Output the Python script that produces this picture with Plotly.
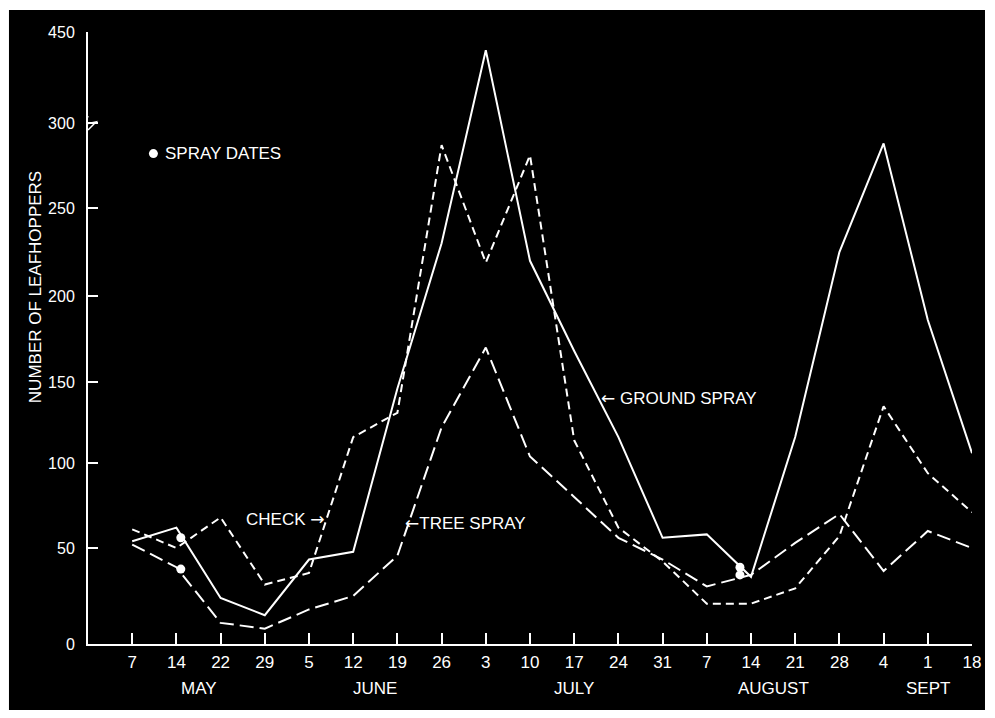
import numpy as np
import plotly.graph_objects as go

# ---------------- data ----------------
dates = ["7", "14", "22", "29", "5", "12", "19", "26", "3", "10", "17", "24", "31",
         "7", "14", "21", "28", "4", "1", "18"]
month_names = ["MAY", "JUNE", "JULY", "AUGUST", "SEPT"]
month_of_date = [0, 0, 0, 0, 1, 1, 1, 1, 2, 2, 2, 2, 2, 3, 3, 3, 3, 4, 4, 4]

ground_spray = [54, 62, 24, 15, 44, 48, 146, 230, 420, 220, 168, 116, 56, 58, 35, 116, 225, 288, 186, 106]
check        = [61, 50, 68, 31, 37, 116, 131, 287, 219, 281, 114, 62, 43, 21, 21, 29, 57, 135, 94, 71]
tree_spray   = [52, 40, 11, 8, 18, 25, 46, 122, 170, 104, 80, 56, 44, 30, 36, 53, 70, 38, 60, 50]

# spray dates (position on the date index) and counts at those dates
spray_date_idx = [1.1, 13.75]
spray_ground = [56, 40]
spray_tree = [39, 36]

y_tick_values = [0, 50, 100, 150, 200, 250, 300, 450]

# ---------------- broken / hand-drawn y scale ----------------
Y_SCALE = [0, 96, 181, 262, 348, 436, 521, 612]


def ty(v):
    return np.interp(np.asarray(v, dtype=float), y_tick_values, Y_SCALE)


FONT = "Liberation Sans, Arial, sans-serif"
WHITE = "#ffffff"
RARR = "<span style='font-family:DejaVu Sans'>→</span>"
LARR = "<span style='font-family:DejaVu Sans'>←</span>"

x_idx = list(range(len(dates)))

fig = go.Figure()

fig.add_trace(go.Scatter(x=x_idx, y=ty(check), mode="lines", name="CHECK",
                         line=dict(color=WHITE, width=2, dash="8px,5px"), cliponaxis=False))
fig.add_trace(go.Scatter(x=x_idx, y=ty(tree_spray), mode="lines", name="TREE SPRAY",
                         line=dict(color=WHITE, width=2, dash="14px,6px"), cliponaxis=False))
fig.add_trace(go.Scatter(x=x_idx, y=ty(ground_spray), mode="lines", name="GROUND SPRAY",
                         line=dict(color=WHITE, width=2), cliponaxis=False))

# spray date markers
fig.add_trace(go.Scatter(x=spray_date_idx + spray_date_idx, y=ty(spray_ground + spray_tree),
                         mode="markers", marker=dict(color=WHITE, size=9), cliponaxis=False))
# legend dot for "SPRAY DATES"
fig.add_trace(go.Scatter(x=[0.48], y=ty([282]), mode="markers",
                         marker=dict(color=WHITE, size=9), cliponaxis=False))

annotations = [
    dict(x=0.7, y=float(ty(282)), text="SPRAY DATES"),
    dict(x=2.53, y=float(ty(67)), text="CHECK " + RARR),
    dict(x=6.12, y=float(ty(65)), text=LARR + "TREE SPRAY"),
    dict(x=10.57, y=float(ty(140)), text=LARR + " GROUND SPRAY"),
]
for a in annotations:
    a.update(xref="x", yref="y", showarrow=False, xanchor="left", yanchor="middle",
             font=dict(family=FONT, size=17, color=WHITE))

# month labels centred under their dates
for m, name in enumerate(month_names):
    idx = [i for i, mm in enumerate(month_of_date) if mm == m]
    annotations.append(dict(x=float(np.mean(idx)), y=-0.0735, xref="x", yref="paper",
                            text=name, showarrow=False, xanchor="center", yanchor="middle",
                            font=dict(family=FONT, size=17, color=WHITE)))

# y-axis title
annotations.append(dict(x=-0.06, y=0.583, xref="paper", yref="paper", text="NUMBER OF LEAFHOPPERS",
                        textangle=-90, showarrow=False, xanchor="center", yanchor="middle",
                        font=dict(family=FONT, size=17, color=WHITE)))

# black photographic background
shapes = [dict(type="rect", xref="paper", yref="paper", x0=-0.0894, x1=1.0147, y0=-0.1078, y1=1.036,
               fillcolor="#000000", line=dict(width=0), layer="below")]

# axis break symbol at 300
yb = float(ty(300))
px = 1 / 44.2
brk = [(-1, yb - 7), (-1 + 8 * px, yb + 1), (-1 - 3 * px, yb - 1), (-1, yb + 7)]
path = "M " + " L ".join(f"{x:.4f},{y:.2f}" for x, y in brk)
shapes.append(dict(type="path", xref="x", yref="y", path=path, line=dict(color=WHITE, width=1.5)))

# page body has an 8px margin: shrink the figure so the plot lands where the reference has it
fig.update_layout(
    width=987, height=710,
    margin=dict(l=80, r=23, t=24, b=74),
    paper_bgcolor="#ffffff", plot_bgcolor="rgba(0,0,0,0)",
    showlegend=False,
    annotations=annotations, shapes=shapes,
    font=dict(family=FONT, size=17, color=WHITE),
)
fig.update_xaxes(range=[-1, 19], tickvals=x_idx, ticktext=dates, ticks="inside", ticklen=11,
                 tickwidth=1.5, tickcolor=WHITE, showline=True, linecolor=WHITE, linewidth=2,
                 showgrid=False, zeroline=False, tickfont=dict(family=FONT, size=17, color=WHITE),
                 ticklabelstandoff=2, fixedrange=True)
fig.update_yaxes(range=[0, 612], tickvals=list(ty(y_tick_values)), ticktext=[str(v) for v in y_tick_values],
                 ticks="inside", ticklen=10, tickwidth=1.5, tickcolor=WHITE, showline=True,
                 linecolor=WHITE, linewidth=2, showgrid=False, zeroline=False,
                 tickfont=dict(family=FONT, size=16, color=WHITE), ticklabelstandoff=8, fixedrange=True)

fig.write_html("out.html")
